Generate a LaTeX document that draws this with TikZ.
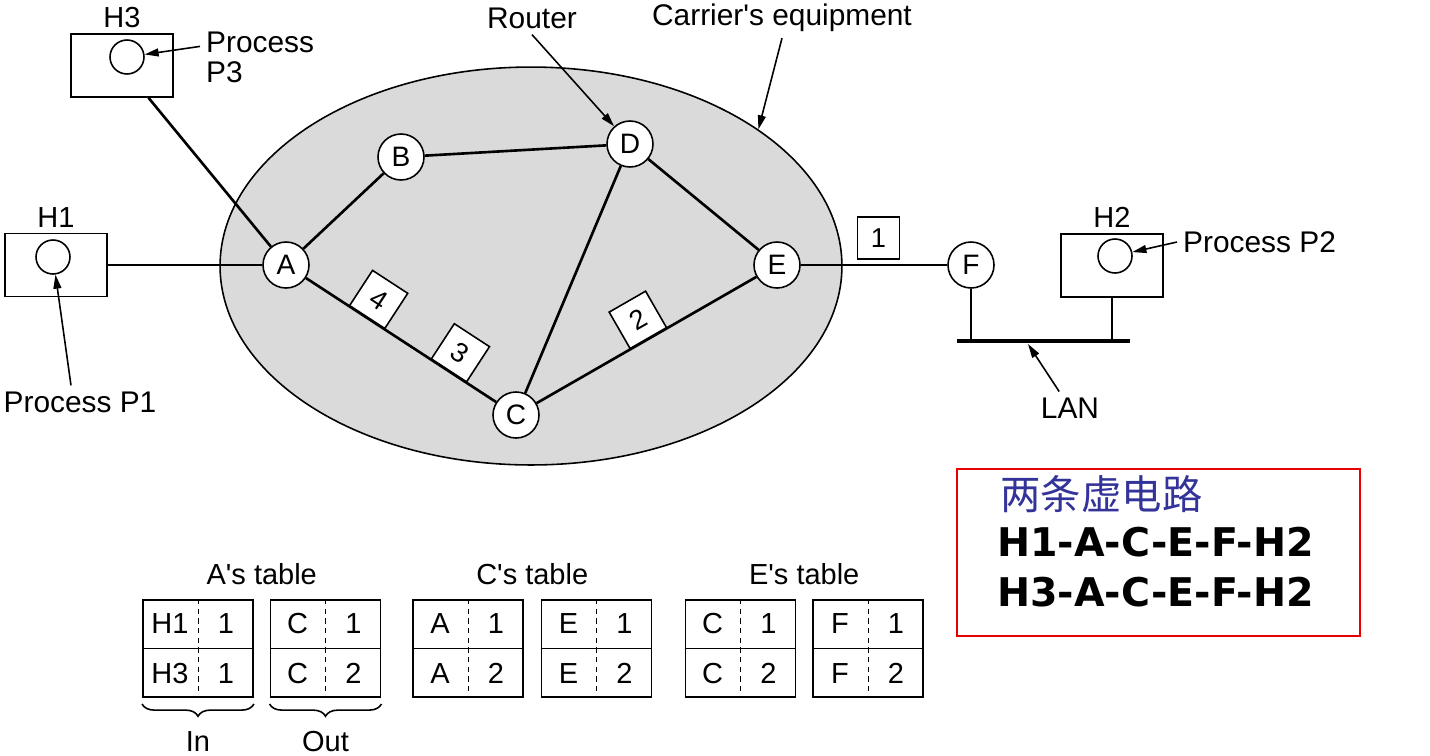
\documentclass[tikz,border=0pt]{standalone}
\usepackage{fontspec}
\setmainfont{Liberation Sans}
\newfontfamily\cjkfont{Noto Sans CJK SC}
\newfontfamily\pathfont{DejaVu Sans}
\usetikzlibrary{shapes.geometric, arrows.meta, positioning, calc, decorations.pathreplacing}
\definecolor{carriergray}{RGB}{218,218,218}
\definecolor{titleblue}{RGB}{51,51,153}
\definecolor{boxred}{RGB}{230,0,0}

\begin{document}
\begin{tikzpicture}[
    x=0.02cm, y=-0.02cm,
    router/.style={circle, draw, line width=0.9pt, fill=white, minimum size=0.92cm, inner sep=0pt, font=\fontsize{16}{18}\selectfont},
    host/.style={rectangle, draw, line width=0.9pt, fill=white, minimum width=2.04cm, minimum height=1.26cm},
    proc/.style={circle, draw, line width=0.9pt, minimum size=0.68cm, inner sep=0pt},
    packet/.style={rectangle, draw, line width=0.9pt, fill=white, minimum size=0.84cm, inner sep=0pt, font=\fontsize{15.5}{17}\selectfont},
    vctable/.style={rectangle, draw, line width=1.1pt, minimum width=2.2cm, minimum height=1.94cm},
    cell/.style={font=\fontsize{16.5}{18}\selectfont},
    biglabel/.style={font=\fontsize{17}{17}\selectfont},
    smalllabel/.style={inner sep=2pt, font=\fontsize{16.5}{18}\selectfont},
    wire/.style={line width=1.5pt},
    pointer/.style={-{Triangle[length=8pt, width=4.5pt]}, line width=0.9pt},
    tblbrace/.style={decorate, decoration={brace, mirror, amplitude=7pt}, line width=0.9pt}
]

\path[use as bounding box, fill=white] (0,0) rectangle (1430,755);

% Carrier's equipment
\node[ellipse, draw, line width=0.9pt, fill=carriergray, minimum width=12.44cm, minimum height=7.96cm, inner sep=0pt] (carrier) at (531,266) {};

% Routers
\node[router] (A) at (286,265) {A};
\node[router] (B) at (401,157) {B};
\node[router] (D) at (630,144) {D};
\node[router] (E) at (777,265) {E};
\node[router] (C) at (516,415) {C};
\node[router] (F) at (971,265) {F};

% Hosts
\node[host] (H3host) at (122,65.5) {};
\node[proc] (H3proc) at (127,57) {};
\node[smalllabel, above=1pt of H3host] (H3name) {H3};
\node[host] (H1host) at (56,265) {};
\node[proc] (H1proc) at (53,257) {};
\node[smalllabel, above=1pt of H1host] (H1name) {H1};
\node[host] (H2host) at (1112,265.5) {};
\node[proc] (H2proc) at (1115,256) {};
\node[smalllabel, above=1pt of H2host] (H2name) {H2};

% LAN
\coordinate (lanW) at (957,341);
\coordinate (lanE) at (1130,341);
\coordinate (lanpt) at (1028,344);
\draw[line width=2pt] (lanW) -- (lanE);

% Links
\draw[wire] (H3host) -- (A);
\draw[wire] (H1host) -- (A);
\draw[wire] (A) -- (B);
\draw[wire] (B) -- (D);
\draw[wire] (D) -- (E);
\draw[wire] (D) -- (C);
\draw[wire] (A) -- (C);
\draw[wire] (C) -- (E);
\draw[wire] (E) -- (F);
\draw[wire] (F) -- (F |- lanW);
\draw[wire] (H2host) -- (H2host |- lanW);

% Packets
\path (A) -- (C) node[packet, sloped, pos=0.32, anchor=south] (pk4) {4}
                 node[packet, sloped, pos=0.75, anchor=south] (pk3) {3};
\path (C) -- (E) node[packet, sloped, pos=0.51, anchor=south] (pk2) {2};
\path (E) -- (F) node[packet, pos=0.53, above=0.1cm] (pk1) {1};

% Labels and pointers
\node[biglabel, anchor=west, align=left] (p3label) at (200,57) {Process\\P3};
\node[biglabel] (p1label) at (80,402) {Process P1};
\node[biglabel, anchor=west] (p2label) at (1177,242) {Process P2};
\node[biglabel] (routerlabel) at (532,18) {Router};
\node[biglabel] (carrierlabel) at (782,18) {Carrier\textquotesingle s equipment};
\node[biglabel] (lanlabel) at (1070,408) {LAN};

\draw[pointer] (p3label.170) -- (H3proc);
\draw[pointer] ([xshift=-0.18cm]p1label.north) -- (H1proc);
\draw[pointer] (p2label.west) -- (H2proc);
\draw[pointer] (routerlabel.south) -- (D);
\draw[pointer] (carrierlabel.south) -- (carrier.31);
\draw[pointer] (lanlabel) -- (lanpt);

% A's table
\node[vctable] (tAin) at (198,648.5) {};
\node[vctable] (tAout) at (325.5,648.5) {};
% C's table
\node[vctable] (tCin) at (468,648.5) {};
\node[vctable] (tCout) at (596.5,648.5) {};
% E's table
\node[vctable] (tEin) at (740.5,648.5) {};
\node[vctable] (tEout) at (868,648.5) {};

\draw[line width=1.1pt] (tAin.west) -- (tAin.east);
\draw[line width=1.1pt] (tAout.west) -- (tAout.east);
\draw[line width=1.1pt] (tCin.west) -- (tCin.east);
\draw[line width=1.1pt] (tCout.west) -- (tCout.east);
\draw[line width=1.1pt] (tEin.west) -- (tEin.east);
\draw[line width=1.1pt] (tEout.west) -- (tEout.east);
\draw[dashed, dash pattern=on 3pt off 2.5pt] (tAin.north) -- (tAin.south);
\draw[dashed, dash pattern=on 3pt off 2.5pt] (tAout.north) -- (tAout.south);
\draw[dashed, dash pattern=on 3pt off 2.5pt] (tCin.north) -- (tCin.south);
\draw[dashed, dash pattern=on 3pt off 2.5pt] (tCout.north) -- (tCout.south);
\draw[dashed, dash pattern=on 3pt off 2.5pt] (tEin.north) -- (tEin.south);
\draw[dashed, dash pattern=on 3pt off 2.5pt] (tEout.north) -- (tEout.south);

\node[cell] (a11) at ($(tAin.center)!0.5!(tAin.north west)$) {H1};
\node[cell] (a12) at ($(tAin.center)!0.5!(tAin.north east)$) {1};
\node[cell] (a21) at ($(tAin.center)!0.5!(tAin.south west)$) {H3};
\node[cell] (a22) at ($(tAin.center)!0.5!(tAin.south east)$) {1};
\node[cell] (a13) at ($(tAout.center)!0.5!(tAout.north west)$) {C};
\node[cell] (a14) at ($(tAout.center)!0.5!(tAout.north east)$) {1};
\node[cell] (a23) at ($(tAout.center)!0.5!(tAout.south west)$) {C};
\node[cell] (a24) at ($(tAout.center)!0.5!(tAout.south east)$) {2};

\node[cell] (c11) at ($(tCin.center)!0.5!(tCin.north west)$) {A};
\node[cell] (c12) at ($(tCin.center)!0.5!(tCin.north east)$) {1};
\node[cell] (c21) at ($(tCin.center)!0.5!(tCin.south west)$) {A};
\node[cell] (c22) at ($(tCin.center)!0.5!(tCin.south east)$) {2};
\node[cell] (c13) at ($(tCout.center)!0.5!(tCout.north west)$) {E};
\node[cell] (c14) at ($(tCout.center)!0.5!(tCout.north east)$) {1};
\node[cell] (c23) at ($(tCout.center)!0.5!(tCout.south west)$) {E};
\node[cell] (c24) at ($(tCout.center)!0.5!(tCout.south east)$) {2};

\node[cell] (e11) at ($(tEin.center)!0.5!(tEin.north west)$) {C};
\node[cell] (e12) at ($(tEin.center)!0.5!(tEin.north east)$) {1};
\node[cell] (e21) at ($(tEin.center)!0.5!(tEin.south west)$) {C};
\node[cell] (e22) at ($(tEin.center)!0.5!(tEin.south east)$) {2};
\node[cell] (e13) at ($(tEout.center)!0.5!(tEout.north west)$) {F};
\node[cell] (e14) at ($(tEout.center)!0.5!(tEout.north east)$) {1};
\node[cell] (e23) at ($(tEout.center)!0.5!(tEout.south west)$) {F};
\node[cell] (e24) at ($(tEout.center)!0.5!(tEout.south east)$) {2};

\node[smalllabel, above=0.2cm] (tAname) at ($(tAin.north east)!0.5!(tAout.north west)$) {A\textquotesingle s table};
\node[smalllabel, above=0.2cm] (tCname) at ($(tCin.north east)!0.5!(tCout.north west)$) {C\textquotesingle s table};
\node[smalllabel, above=0.2cm] (tEname) at ($(tEin.north east)!0.5!(tEout.north west)$) {E\textquotesingle s table};

\draw[tblbrace] ([yshift=-0.12cm]tAin.south west) -- ([yshift=-0.12cm]tAin.south east) node[smalllabel, midway, below=0.46cm] (inlabel) {In};
\draw[tblbrace] ([yshift=-0.12cm]tAout.south west) -- ([yshift=-0.12cm]tAout.south east) node[smalllabel, midway, below=0.46cm] (outlabel) {Out};

% Two virtual circuits
\node[draw=boxred, line width=1.2pt, minimum width=8.06cm, minimum height=3.34cm] (vcbox) at (1158.5,552.5) {};
\node[anchor=west, inner sep=0pt, text=titleblue, font=\cjkfont\fontsize{23}{25}\selectfont] (vctitle) at (1000,494) {两条虚电路};
\node[anchor=west, inner sep=0pt, font=\pathfont\bfseries\fontsize{22.5}{24}\selectfont] (vcpath1) at (997,542) {H1-A-C-E-F-H2};
\node[anchor=west, inner sep=0pt, font=\pathfont\bfseries\fontsize{22.5}{24}\selectfont] (vcpath2) at (997,592) {H3-A-C-E-F-H2};

\end{tikzpicture}
\end{document}
